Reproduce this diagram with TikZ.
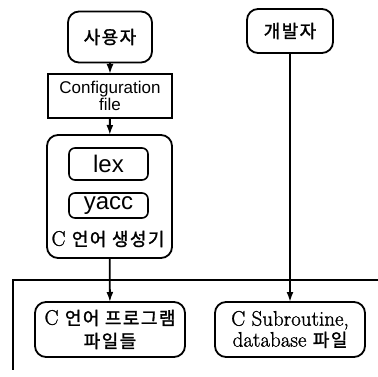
\documentclass[tikz,border=0pt]{standalone}
\usepackage{fontspec}
\setsansfont{Liberation Sans}
\setmainfont{Latin Modern Roman}[FakeBold=1.2]
\newfontfamily\kr[LetterSpace=8,FakeBold=1.5]{Noto Sans CJK KR}
\usetikzlibrary{arrows.meta}
\newcommand{\krtext}[1]{{\kr\fontsize{18}{24}\selectfont #1}}
\begin{document}
\begin{tikzpicture}[x=1pt,y=-1pt,
  every node/.style={inner sep=0pt,outer sep=0pt},
  rbox/.style={draw,line width=1.8pt,rounded corners=11pt,align=center},
  ibox/.style={draw,line width=1.6pt,rounded corners=6pt,align=center},
  sqbox/.style={draw,line width=1.7pt,align=center},
  conn/.style={line width=1.8pt,-{Latex[length=10pt,width=7pt]}},
  plain/.style={line width=1.8pt},
  krt/.style={font=\kr\fontsize{18}{24}\selectfont},
  sft/.style={font=\sffamily\fontsize{17}{17}\selectfont},
  rmt/.style={font=\rmfamily\fontsize{21}{25}\selectfont}]
\useasboundingbox (0,0) rectangle (378,377);
\node[rbox,minimum width=84pt,minimum height=51pt,krt] (user) at (110,37) {사용자};
\node[rbox,minimum width=86pt,minimum height=44pt,krt] (dev) at (290,31) {개발자};
\node[sqbox,minimum width=124pt,minimum height=44pt,sft] (config) at (110,96) {Configuration\\file};
\node[rbox,minimum width=125pt,minimum height=123pt] (gen) at (109.5,196.5) {};
\node[ibox,minimum width=79pt,minimum height=32pt,font=\sffamily\fontsize{24}{26}\selectfont] (lex) at (108.5,164) {lex};
\node[ibox,minimum width=79pt,minimum height=25pt,font=\sffamily\fontsize{24}{26}\selectfont] (yacc) at (108.5,205.5) {yacc};
\node[rmt] (genlabel) at (108,239) {C \krtext{언어 생성기}};
\node[rbox,minimum width=150pt,minimum height=55pt,rmt] (prog) at (110,329.5) {C \krtext{언어 프로그램}\\[-2pt]\krtext{파일들}};
\node[rbox,minimum width=150pt,minimum height=55pt,rmt] (sub) at (290,329.5) {C Subroutine,\\[-4pt]database \krtext{파일}};
\coordinate (hl) at (13,280);
\coordinate (hr) at (378,280);
\coordinate (vb) at (13,370);
\draw[conn] (user) -- (config);
\draw[conn] (config) -- (gen);
\draw[conn] (gen) -- (prog);
\draw[conn] (dev.south -| sub.north) -- (sub.north);
\draw[plain] (hr) -- (hl) -- (vb);
\end{tikzpicture}
\end{document}
